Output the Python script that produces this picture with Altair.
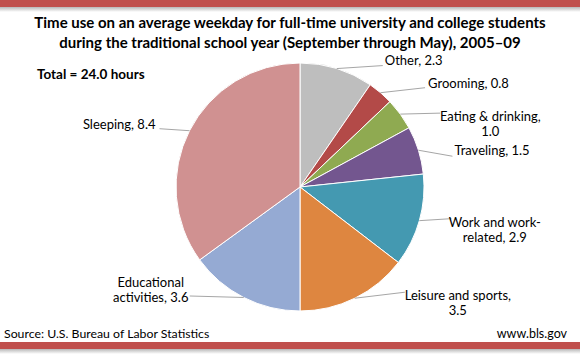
import altair as alt
import numpy as np
import pandas as pd

# ---------------- data ----------------
categories = ["Other", "Grooming", "Eating & drinking", "Traveling",
              "Work and work-related", "Leisure and sports",
              "Educational activities", "Sleeping"]
hours = [2.3, 0.8, 1.0, 1.5, 2.9, 3.5, 3.6, 8.4]
label_lines = [["Other, 2.3"], ["Grooming, 0.8"], ["Eating & drinking,", "1.0"],
               ["Traveling, 1.5"], ["Work and work-", "related, 2.9"],
               ["Leisure and sports,", "3.5"], ["Educational", "activities, 3.6"],
               ["Sleeping, 8.4"]]
slice_colors = ["#BEBEBE", "#B34A48", "#8FAA51", "#73568F",
                "#4499B1", "#DE8640", "#95AAD3", "#D09191"]
title_lines = ["Time use on an average weekday for full-time university and college students",
               "during the traditional school year (September through May), 2005\u201309"]
total_text = "Total = 24.0  hours"
source_text = "Source: U.S. Bureau of Labor Statistics"
site_text = "www.bls.gov"

# ---------------- layout ----------------
W, H = 580, 356
CX, CY, R = 300, 187, 124
FONT = "Lato"
RED = "#C0504D"
# leader end offset from slice edge; text anchor offset from leader end
leader_offsets = [(46, -3), (44.5, -5), (40, -1), (34, 6), (32, -2), (50, -6), (-54, -1.5), (-30, -2)]
text_offsets = [(2, -4.5), (3, -3.5), (50, 3.5), (2, -5), (43.5, 4.5), (53, 3.5), (-39, -12.5), (-4, -4)]
text_aligns = ["left", "left", "center", "left", "center", "center", "center", "right"]

df = pd.DataFrame({"category": categories, "hours": hours, "order": range(len(categories))})
total = df["hours"].sum()
cum = df["hours"].cumsum()
mid = (cum - df["hours"] / 2) / total * 2 * np.pi
df["x0"] = CX + R * np.sin(mid)
df["y0"] = CY - R * np.cos(mid)
df["x1"] = df["x0"] + [o[0] for o in leader_offsets]
df["y1"] = df["y0"] + [o[1] for o in leader_offsets]
df["tx"] = df["x1"] + [o[0] for o in text_offsets]
df["ty"] = df["y1"] + [o[1] for o in text_offsets]
df["label"] = ["\n".join(l) for l in label_lines]
df["align"] = text_aligns

one = pd.DataFrame({"a": [0]})

pie = alt.Chart(df).mark_arc(radius=R, stroke="white", strokeWidth=1).encode(
    theta=alt.Theta("hours:Q", stack=True),
    color=alt.Color("category:N", scale=alt.Scale(domain=categories, range=slice_colors), legend=None),
    order=alt.Order("order:Q"),
    x=alt.value(CX), y=alt.value(CY),
)

leaders = alt.Chart(df).mark_rule(color="#A6A6A6", strokeWidth=1).encode(
    x=alt.X("x0:Q", scale=None, axis=None), y=alt.Y("y0:Q", scale=None, axis=None),
    x2="x1:Q", y2="y1:Q",
)

def label_layer(al):
    return alt.Chart(df).transform_filter(alt.datum.align == al).mark_text(
        align=al, baseline="middle", font=FONT, fontSize=13, lineHeight=15,
        lineBreak="\n", color="#000000",
    ).encode(
        x=alt.X("tx:Q", scale=None, axis=None), y=alt.Y("ty:Q", scale=None, axis=None),
        text="label:N",
    )

labels = [label_layer(a) for a in ["left", "center", "right"]]

def rect(y0, y1, fill):
    return alt.Chart(one).mark_rect(fill=fill).encode(
        x=alt.value(0), x2=alt.value(W), y=alt.value(y0), y2=alt.value(y1))

shadow = alt.LinearGradient(gradient="linear", x1=0, y1=0, x2=0, y2=1,
                            stops=[alt.GradientStop(color="#B8B8B8", offset=0),
                                   alt.GradientStop(color="#FFFFFF", offset=1)])
decor = [rect(7, 12, shadow), rect(0, 7, RED), rect(349, 354, shadow), rect(342, 349, RED)]

def txt(s, x, y, size, weight="normal", align="left"):
    return alt.Chart(one).mark_text(
        text=s, font=FONT, fontSize=size, fontWeight=weight, align=align,
        baseline="alphabetic", color="#000000",
    ).encode(x=alt.value(x), y=alt.value(y))

texts = [
    txt(title_lines[0], 290, 28, 15, "bold", "center"),
    txt(title_lines[1], 290, 48, 15, "bold", "center"),
    txt(total_text, 37, 79, 13.5, "bold"),
    txt(source_text, 4, 338, 12.3),
    txt(site_text, 567, 338, 12.5, align="right"),
]

chart = alt.layer(*decor, pie, leaders, *labels, *texts).properties(
    width=W, height=H, padding=0, autosize=alt.AutoSizeParams(type="none"),
    background="white",
).configure_view(stroke=None)

chart.save("out.html", embed_options={"renderer": "svg", "actions": False})
